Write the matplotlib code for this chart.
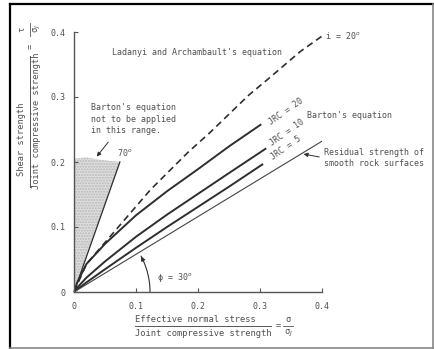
import numpy as np
import matplotlib
matplotlib.use("Agg")
import matplotlib.pyplot as plt
from matplotlib.lines import Line2D

# values (sigma/sigma_J, tau/sigma_J)
jrc20_x = [0, 0.005, 0.02, 0.05, 0.1, 0.15, 0.2, 0.25, 0.302]
jrc20_y = [0, 0.014, 0.043, 0.074, 0.118, 0.155, 0.189, 0.224, 0.258]

jrc10_x = [0, 0.005, 0.02, 0.05, 0.1, 0.15, 0.2, 0.25, 0.31]
jrc10_y = [0, 0.0065, 0.022, 0.047, 0.085, 0.119, 0.151, 0.183, 0.221]

jrc5_x = [0, 0.005, 0.02, 0.05, 0.1, 0.15, 0.2, 0.25, 0.305]
jrc5_y = [0, 0.0039, 0.0147, 0.035, 0.068, 0.1, 0.131, 0.162, 0.197]

resid_x = [0, 0.4]
resid_y = [0, 0.232]

ladanyi_x = [0, 0.02, 0.058, 0.123, 0.184, 0.219, 0.282, 0.311, 0.365, 0.402]
ladanyi_y = [0, 0.043, 0.085, 0.157, 0.215, 0.245, 0.303, 0.326, 0.37, 0.395]

line70_x = [0, 0.074]
line70_y = [0, 0.2]

shade_x = [0, 0, 0.02, 0.045, 0.075]
shade_y = [0, 0.205, 0.207, 0.203, 0.2]

ticks = [0, 0.1, 0.2, 0.3, 0.4]
tick_labels = ["0", "0.1", "0.2", "0.3", "0.4"]

mono = "DejaVu Sans Mono"
txt = "#505050"
ink = "#2e2e2e"

fig = plt.figure(figsize=(4.34, 3.49), dpi=100)
ax = fig.add_axes([74 / 434, 1 - 292 / 349, 248 / 434, 260 / 349])

ax.fill(shade_x, shade_y, facecolor="#dedede", edgecolor="#b8b8b8",
        hatch="......", linewidth=0)
ax.plot(line70_x, line70_y, color=ink, lw=0.9)

ax.plot(jrc20_x, jrc20_y, color=ink, lw=1.4, solid_capstyle="butt")
ax.plot(jrc10_x, jrc10_y, color=ink, lw=1.4, solid_capstyle="butt")
ax.plot(jrc5_x, jrc5_y, color=ink, lw=1.4, solid_capstyle="butt")
ax.plot(resid_x, resid_y, color="#444444", lw=0.8)
ax.plot(ladanyi_x, ladanyi_y, color=ink, lw=1.2, dashes=(4, 2.6), clip_on=False)

# phi = 30 deg arc
t = np.linspace(0, np.radians(28), 40)
ax.plot(0.1226 * np.cos(t), 0.117 * np.sin(t), color=ink, lw=0.8)
ax.annotate("", xy=(0.1226 * np.cos(np.radians(30)), 0.117 * np.sin(np.radians(30))),
            xytext=(0.1226 * np.cos(np.radians(24)), 0.117 * np.sin(np.radians(24))),
            arrowprops=dict(arrowstyle="-|>", color=ink, lw=0.8, mutation_scale=6))

ax.set_xlim(0, 0.4)
ax.set_ylim(0, 0.4)
ax.spines["top"].set_visible(False)
ax.spines["right"].set_visible(False)
for s in ("left", "bottom"):
    ax.spines[s].set_color("#555555")
    ax.spines[s].set_linewidth(1.0)
ax.set_xticks(ticks)
ax.set_xticklabels(tick_labels, family=mono, fontsize=6, color=txt)
ax.set_yticks(ticks)
ax.set_yticklabels(tick_labels, family=mono, fontsize=6, color=txt)
ax.tick_params(direction="in", length=3, width=0.8, color="#555555")
ax.tick_params(axis="x", pad=7)
ax.tick_params(axis="y", pad=6)

kw = dict(family=mono, fontsize=6, color=txt)
ax.text(0.061, 0.368, "Ladanyi and Archambault's equation", va="center", **kw)
ax.text(0.405, 0.395, "i = 20$^o$", va="center", clip_on=False, **kw)
ax.text(0.027, 0.29, "Barton's equation\nnot to be applied\nin this range.",
        va="top", linespacing=1.35, **kw)
ax.annotate("", xy=(0.034, 0.205), xytext=(0.058, 0.234),
            arrowprops=dict(arrowstyle="-|>", color=ink, lw=0.7, mutation_scale=6))
ax.text(0.069, 0.214, "70$^o$", va="center", **kw)
ax.text(0.342, 0.277, "JRC = 20", rotation=35, ha="center", va="center", **kw)
ax.text(0.344, 0.246, "JRC = 10", rotation=35, ha="center", va="center", **kw)
ax.text(0.342, 0.221, "JRC = 5", rotation=35, ha="center", va="center", **kw)
ax.text(0.376, 0.272, "Barton's equation", va="center", clip_on=False, **kw)
ax.text(0.404, 0.206, "Residual strength of\nsmooth rock surfaces", va="center",
        linespacing=1.25, clip_on=False, **kw)
ax.annotate("", xy=(0.366, 0.213), xytext=(0.4, 0.207), annotation_clip=False,
            arrowprops=dict(arrowstyle="-|>", color=ink, lw=0.7, mutation_scale=6))
ax.text(0.134, 0.022, "\u03d5 = 30$^o$", va="center", **kw)

# axis titles written as fractions
lk = dict(family=mono, fontsize=6.2, color=txt, ha="center", va="center")
fig.text(22 / 434, 1 - 139 / 349, "Shear strength", rotation=90, **lk)
fig.text(37 / 434, 1 - 121 / 349, "Joint compressive strength", rotation=90, **lk)
fig.add_artist(Line2D([30 / 434, 30 / 434], [1 - 56 / 349, 1 - 187 / 349],
                      color="#555555", lw=0.7))
fig.text(30 / 434, 1 - 46 / 349, "=", rotation=90, **lk)
fig.text(22 / 434, 1 - 29 / 349, "\u03c4", rotation=90, **lk)
fig.text(37 / 434, 1 - 29 / 349, "\u03c3$_J$", rotation=90, **lk)
fig.add_artist(Line2D([30 / 434, 30 / 434], [1 - 23 / 349, 1 - 36 / 349],
                      color="#555555", lw=0.6))

fig.text(135 / 434, 1 - 320 / 349, "Effective normal stress", ha="left", va="center",
         family=mono, fontsize=6.3, color=txt)
fig.text(135 / 434, 1 - 333 / 349, "Joint compressive strength", ha="left", va="center",
         family=mono, fontsize=6.3, color=txt)
fig.add_artist(Line2D([135 / 434, 271 / 434], [1 - 326 / 349, 1 - 326 / 349],
                      color="#555555", lw=0.7))
fig.text(278 / 434, 1 - 326 / 349, "=", **lk)
fig.text(288 / 434, 1 - 320 / 349, "\u03c3", **lk)
fig.text(288 / 434, 1 - 333 / 349, "\u03c3$_J$", **lk)
fig.add_artist(Line2D([283 / 434, 293 / 434], [1 - 326 / 349, 1 - 326 / 349],
                      color="#555555", lw=0.6))

# scanned page frame
fig.add_artist(Line2D([9.5 / 434, 9.5 / 434], [1 - 3.5 / 349, 1 - 347.5 / 349], color="black", lw=1.6))
fig.add_artist(Line2D([9.5 / 434, 433 / 434], [1 - 3.5 / 349, 1 - 3.5 / 349], color="black", lw=1.6))
fig.add_artist(Line2D([9.5 / 434, 433 / 434], [1 - 347.5 / 349, 1 - 347.5 / 349], color="#888888", lw=1.2))
fig.add_artist(Line2D([433 / 434, 433 / 434], [1 - 3.5 / 349, 1 - 347.5 / 349], color="#888888", lw=1.2))

fig.savefig("out.png", dpi=100)
